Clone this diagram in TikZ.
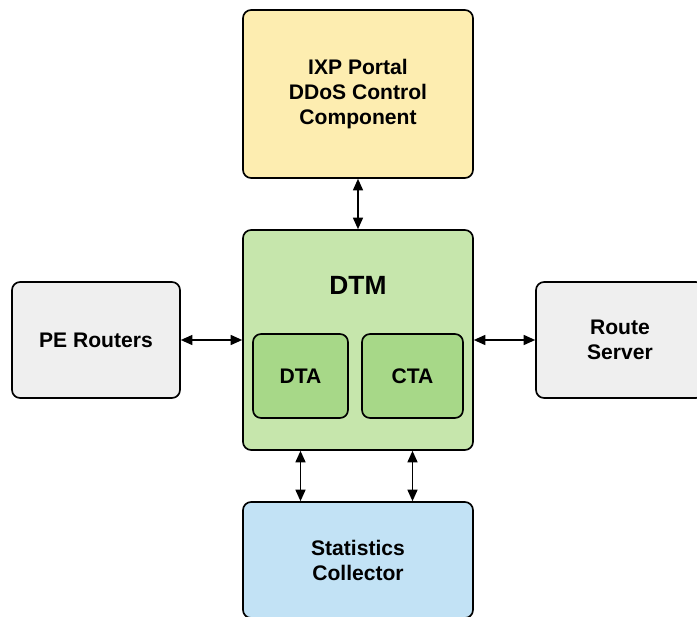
\documentclass[tikz,border=0pt]{standalone}
\usepackage{fontspec}
\setmainfont{Liberation Sans}
\usetikzlibrary{arrows.meta}

\definecolor{portalfill}{HTML}{FDEDB0}
\definecolor{dtmfill}{HTML}{C6E6AC}
\definecolor{agentfill}{HTML}{A7D888}
\definecolor{peerfill}{HTML}{EFEFEF}
\definecolor{statsfill}{HTML}{C2E2F5}

\tikzset{
    box/.style={draw, line width=0.95pt, rounded corners=1.6mm, align=center,
        font=\bfseries\fontsize{12}{14.2}\selectfont, inner sep=0pt},
    link/.style={{Triangle[length=2.3mm,width=2mm]}-{Triangle[length=2.3mm,width=2mm]}, line width=0.8pt}
}

\begin{document}
\begin{tikzpicture}[x=0.02cm, y=-0.02cm]
    \clip (0,0) rectangle (697,616);
    % Blocs principals
    \node[box, fill=portalfill, minimum width=4.6cm, minimum height=3.36cm] (portal) at (358,94)
        {IXP Portal\\DDoS Control\\Component};
    \node[box, fill=dtmfill, minimum width=4.6cm, minimum height=4.4cm] (dtm) at (358,340) {};
    \node[font=\bfseries\fontsize{15}{18}\selectfont] (dtmlabel) at (358,285) {DTM};
    \node[box, fill=agentfill, minimum width=1.9cm, minimum height=1.68cm] (dta) at (300.5,376) {DTA};
    \node[box, fill=agentfill, minimum width=2.02cm, minimum height=1.68cm] (cta) at (412.5,376) {CTA};
    \node[box, fill=peerfill, minimum width=3.36cm, minimum height=2.32cm] (pe) at (96,340) {PE Routers};
    \node[box, fill=peerfill, minimum width=3.36cm, minimum height=2.32cm] (rs) at (620,340) {Route\\Server};
    \node[box, fill=statsfill, minimum width=4.6cm, minimum height=2.32cm] (stats) at (358,560)
        {Statistics\\Collector};
    % Connexions
    \draw[link] (portal.south) -- (dtm.north);
    \draw[link] (pe.east) -- (dtm.west);
    \draw[link] (dtm.east) -- (rs.west);
    \draw[link] (dta |- dtm.south) -- (dta |- stats.north);
    \draw[link] (cta |- dtm.south) -- (cta |- stats.north);
\end{tikzpicture}
\end{document}
